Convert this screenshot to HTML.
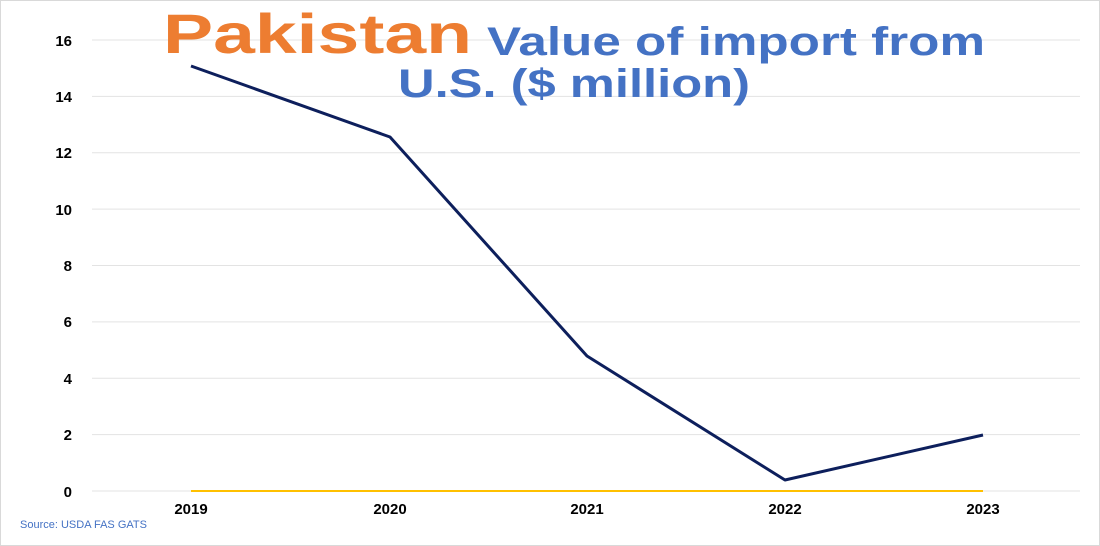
<!DOCTYPE html>
<html><head><meta charset="utf-8"><style>body{margin:0;background:#fff}svg{display:block}</style></head>
<body>
<svg width="1100" height="546" xmlns="http://www.w3.org/2000/svg" font-family="Liberation Sans, sans-serif">
<rect x="0.5" y="0.5" width="1099" height="545" fill="#fff" stroke="#d9d9d9"/>
<g stroke="#e3e3e3" stroke-width="1">
<line x1="92" x2="1080" y1="40" y2="40"/><line x1="92" x2="1080" y1="96.4" y2="96.4"/>
<line x1="92" x2="1080" y1="152.8" y2="152.8"/><line x1="92" x2="1080" y1="209.1" y2="209.1"/>
<line x1="92" x2="1080" y1="265.5" y2="265.5"/><line x1="92" x2="1080" y1="321.9" y2="321.9"/>
<line x1="92" x2="1080" y1="378.3" y2="378.3"/><line x1="92" x2="1080" y1="434.6" y2="434.6"/>
<line x1="92" x2="1080" y1="491" y2="491"/>
</g>
<g font-size="15" font-weight="bold" fill="#000" text-anchor="end">
<text x="72" y="46">16</text><text x="72" y="102">14</text><text x="72" y="158">12</text>
<text x="72" y="215">10</text><text x="72" y="271">8</text><text x="72" y="327">6</text>
<text x="72" y="384">4</text><text x="72" y="440">2</text><text x="72" y="497">0</text>
</g>
<g font-size="15" font-weight="bold" fill="#000" text-anchor="middle">
<text x="191" y="514">2019</text><text x="390" y="514">2020</text><text x="587" y="514">2021</text>
<text x="785" y="514">2022</text><text x="983" y="514">2023</text>
</g>
<line x1="191" x2="983" y1="491" y2="491" stroke="#ffc000" stroke-width="2"/>
<polyline points="191,66 390,137 587,356 785,480 983,435" fill="none" stroke="#0d1f5c" stroke-width="3" stroke-linejoin="round"/>
<text x="163" y="53" font-size="56" font-weight="bold" fill="#ed7d31" textLength="309" lengthAdjust="spacingAndGlyphs" transform="translate(0,53) scale(1,1.0) translate(0,-53)">Pakistan</text>
<text x="487" y="55" font-size="40" font-weight="bold" fill="#4472c4" textLength="498" lengthAdjust="spacingAndGlyphs">Value of import from</text>
<text x="398" y="97" font-size="40" font-weight="bold" fill="#4472c4" textLength="352" lengthAdjust="spacingAndGlyphs">U.S. ($ million)</text>
<text x="20" y="528" font-size="11" fill="#4472c4">Source: USDA FAS GATS</text>
</svg>
</body></html>
